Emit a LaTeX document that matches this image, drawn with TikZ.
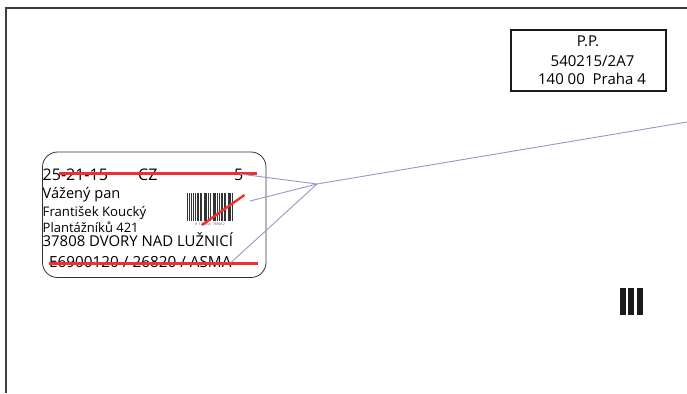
\documentclass[tikz,border=0pt]{standalone}
\usepackage{fontspec}
\setmainfont{Open Sans}
\usepackage{tikz}
\usetikzlibrary{calc}

\definecolor{strike}{RGB}{238,48,48}
\definecolor{leader}{RGB}{150,150,205}
\definecolor{ink}{RGB}{26,26,28}

\tikzset{
  txt/.style={inner sep=0pt, anchor=base west},
  strikeline/.style={strike, line width=2.4pt},
  leaderline/.style={leader, line width=0.9pt},
}

\begin{document}
\begin{tikzpicture}[x=1pt, y=-1pt]
    \useasboundingbox (0,0) rectangle (687,393);

    % Frame of the envelope (top and left edges)
    \draw[black!75, line width=1.2pt] (6,393) -- (6,8) -- (687,8);

    % Postage box in the top right corner
    \node[draw=ink, line width=2pt, minimum width=155pt, minimum height=61pt,
          inner sep=0pt] (pp) at (588,60.5) {};
    \node[anchor=base, inner sep=0pt, font=\fontsize{15}{17}\selectfont] (pp1) at (588,46.7) {P.P.};
    \node[anchor=base, inner sep=0pt, font=\fontsize{15}{17}\selectfont] (pp2) at (592.5,66.7) {540215/2A7};
    \node[anchor=base, inner sep=0pt, font=\fontsize{15}{17}\selectfont] (pp3) at (592,85) {140 00\ \ Praha 4};

    % Rounded address label
    \draw[black!80, line width=0.8pt, rounded corners=15pt] (42.5,152) rectangle (266,277.5);

    % Address lines
    \node[txt, font=\fontsize{16}{18}\selectfont] (code) at (42.5,180.7) {25-21-15};
    \node[txt, font=\fontsize{16}{18}\selectfont] (cz) at (138,180.7) {CZ};
    \node[txt, font=\fontsize{16}{18}\selectfont] (five) at (234,180.7) {5};
    \node[txt, font=\fontsize{14.6}{16}\selectfont] (salut) at (42.5,198.5) {Vážený pan};
    \node[txt, font=\fontsize{13.2}{15}\selectfont] (name) at (42.5,216) {František Koucký};
    \node[txt, font=\fontsize{13}{15}\selectfont] (street) at (42.5,232.8) {Plantážníků 421};
    \node[txt, font=\fontsize{14.9}{16}\selectfont, text height=10.5pt] (city) at (42.5,246.3) {37808 DVORY NAD LUŽNICÍ};
    \node[txt, font=\fontsize{15.3}{16}\selectfont] (ref) at (49,267) {E6900120 / 26820 / ASMA};

    % Barcode on the label
    \foreach \bx/\bw in {187/1.2, 189/0.8, 190.5/1.6, 193/0.7, 194.5/1.2, 196.5/2.0, 199.5/0.8,
                         201/1.4, 203.5/0.7, 205/2.0, 208/0.9, 210/1.3, 212.5/0.7, 214/1.8,
                         217/0.8, 218.5/1.2, 220.5/2.0, 223.5/0.8, 225/1.4, 227.5/0.7, 229/1.6, 231.5/1.2}
        \fill[black!80] (\bx,193) rectangle ++(\bw,28);
    \node[inner sep=0pt, font=\fontsize{3.5}{4}\selectfont, black!70] (bardigits) at (210,224) {8 \ 123456 \ 789012};

    % Strike-outs
    \draw[strikeline] (59,173.3) -- (257,173.3);
    \draw[strikeline] (202,225) -- (244.5,195);
    \draw[strikeline] (49,263.5) -- (258,263.5);

    % Leader lines gathering in one point
    \coordinate (hub) at (317,184);
    \coordinate (exit) at (687,122);
    \coordinate (tipA) at (240,174);
    \coordinate (tipB) at (250,201);
    \coordinate (tipC) at (231,262.5);
    \draw[leaderline] (tipA) -- (hub);
    \draw[leaderline] (tipB) -- (hub);
    \draw[leaderline] (tipC) -- (hub);
    \draw[leaderline] (hub) -- (exit);

    % Three bars at the lower right
    \foreach \bx/\bw in {620/5.5, 628/6, 637/6}
        \fill[ink] (\bx,288) rectangle ++(\bw,26.5);
\end{tikzpicture}
\end{document}
